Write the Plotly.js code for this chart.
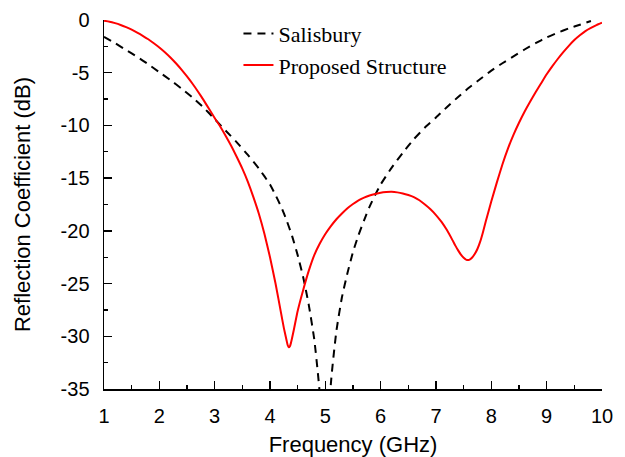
<!DOCTYPE html>
<html>
<head>
<meta charset="utf-8">
<script src="https://cdn.plot.ly/plotly-3.0.1.min.js"></script>
<style>html,body{margin:0;padding:0;background:#fff;}#chart{width:625px;height:457px;}</style>
</head>
<body>
<div id="chart"></div>
<script>
var salisburyFreq = [1.0, 1.2, 1.4, 1.6, 1.8, 2.0, 2.2, 2.4, 2.6, 2.8, 3.0, 3.2, 3.4, 3.6, 3.8, 4.0, 4.1, 4.2, 4.3, 4.4, 4.5, 4.6, 4.7, 4.8, 4.9, 5.0, 5.1, 5.2, 5.3, 5.4, 5.5, 5.6, 5.7, 5.8, 5.9, 6.0, 6.2, 6.4, 6.6, 6.8, 7.0, 7.2, 7.4, 7.6, 7.8, 8.0, 8.2, 8.4, 8.6, 8.8, 9.0, 9.2, 9.4, 9.6, 9.8];
var salisburyDb = [-1.6, -2.2, -2.85, -3.5, -4.2, -4.95, -5.7, -6.5, -7.35, -8.3, -9.4, -10.5, -11.6, -12.8, -14.1, -15.6, -16.6, -17.7, -19.0, -20.5, -22.3, -24.4, -27.0, -30.3, -35.5, -48, -34.5, -29.5, -26.3, -24.0, -22.0, -20.4, -19.0, -17.7, -16.6, -15.6, -14.0, -12.6, -11.3, -10.2, -9.25, -8.25, -7.3, -6.4, -5.6, -4.8, -4.1, -3.45, -2.8, -2.2, -1.65, -1.2, -0.8, -0.45, -0.1];

var proposedFreq = [1.0, 1.1, 1.2, 1.3, 1.4, 1.5, 1.6, 1.7, 1.8, 1.9, 2.0, 2.1, 2.2, 2.3, 2.4, 2.5, 2.6, 2.7, 2.8, 2.9, 3.0, 3.1, 3.2, 3.3, 3.4, 3.5, 3.6, 3.7, 3.8, 3.9, 4.0, 4.1, 4.2, 4.25, 4.3, 4.32, 4.34, 4.36, 4.38, 4.43, 4.5, 4.6, 4.7, 4.8, 4.9, 5.0, 5.1, 5.2, 5.3, 5.4, 5.5, 5.6, 5.7, 5.8, 5.9, 6.0, 6.1, 6.2, 6.3, 6.4, 6.5, 6.6, 6.7, 6.8, 6.9, 7.0, 7.1, 7.2, 7.3, 7.35, 7.4, 7.45, 7.5, 7.55, 7.6, 7.65, 7.7, 7.75, 7.8, 7.85, 7.9, 8.0, 8.1, 8.2, 8.3, 8.4, 8.5, 8.6, 8.7, 8.8, 8.9, 9.0, 9.1, 9.2, 9.3, 9.4, 9.5, 9.6, 9.7, 9.8, 9.9, 10.0];
var proposedDb = [-0.07, -0.16, -0.3, -0.47, -0.68, -0.92, -1.2, -1.5, -1.83, -2.2, -2.6, -3.05, -3.55, -4.1, -4.7, -5.35, -6.05, -6.8, -7.6, -8.45, -9.3, -10.1, -11.0, -11.95, -13.0, -14.1, -15.35, -16.8, -18.4, -20.3, -22.5, -25.0, -27.8, -29.2, -30.4, -30.85, -31.05, -30.95, -30.6, -29.4, -27.6, -25.6, -23.8, -22.3, -21.2, -20.3, -19.55, -18.9, -18.35, -17.85, -17.45, -17.1, -16.85, -16.65, -16.5, -16.38, -16.32, -16.3, -16.35, -16.45, -16.6, -16.8, -17.1, -17.5, -17.95, -18.5, -19.15, -19.95, -20.9, -21.4, -21.85, -22.25, -22.55, -22.75, -22.75, -22.55, -22.2, -21.7, -21.0, -20.1, -19.1, -17.2, -15.4, -13.7, -12.2, -10.9, -9.75, -8.7, -7.75, -6.85, -6.0, -5.15, -4.4, -3.7, -3.05, -2.45, -1.9, -1.45, -1.05, -0.75, -0.48, -0.25];

var seriesNames = ["Salisbury", "Proposed Structure"];
var xTickVals = [1, 2, 3, 4, 5, 6, 7, 8, 9, 10];
var xTickText = ["1", "2", "3", "4", "5", "6", "7", "8", "9", "10"];
var yTickVals = [0, -5, -10, -15, -20, -25, -30, -35];
var yTickText = ["0", "-5", "-10", "-15", "-20", "-25", "-30", "-35"];

var traces = [
  {x: salisburyFreq, y: salisburyDb, name: seriesNames[0], mode: "lines",
   line: {color: "#000000", width: 2, dash: "8px,6px", shape: "spline", smoothing: 0.5}},
  {x: proposedFreq, y: proposedDb, name: seriesNames[1], mode: "lines",
   line: {color: "#ff0000", width: 2, shape: "spline", smoothing: 0.5}}
];

var tickFont = {family: "Liberation Sans, Arial, sans-serif", size: 20, color: "#000"};
var titleFont = {family: "Liberation Sans, Arial, sans-serif", size: 22, color: "#000"};

var layout = {
  width: 625, height: 457,
  margin: {l: 104, r: 23, t: 20, b: 68, pad: 0},
  paper_bgcolor: "#ffffff", plot_bgcolor: "#ffffff",
  showlegend: true,
  legend: {x: 0.27, y: 1.02, xanchor: "left", yanchor: "top", bgcolor: "rgba(0,0,0,0)",
           font: {family: "Liberation Serif, Times New Roman, serif", size: 22, color: "#000"},
           tracegroupgap: 0},
  xaxis: {
    range: [1, 10], tickmode: "array", tickvals: xTickVals, ticktext: xTickText,
    showgrid: false, zeroline: false,
    showline: true, linecolor: "#000", linewidth: 1.5, mirror: false,
    ticks: "inside", ticklen: 8, tickwidth: 1.5, tickcolor: "#000",
    minor: {ticks: "inside", ticklen: 4, tick0: 1, dtick: 0.5, tickwidth: 1.2, tickcolor: "#000", showgrid: false},
    tickfont: tickFont,
    ticklabelstandoff: 8,
    title: {text: "Frequency (GHz)", font: titleFont, standoff: 12}
  },
  yaxis: {
    range: [-35, 0], tickmode: "array", tickvals: yTickVals, ticktext: yTickText,
    showgrid: false, zeroline: false,
    showline: true, linecolor: "#000", linewidth: 1.5, mirror: false,
    ticks: "inside", ticklen: 8, tickwidth: 1.5, tickcolor: "#000",
    minor: {ticks: "inside", ticklen: 4, tick0: 0, dtick: 2.5, tickwidth: 1.2, tickcolor: "#000", showgrid: false},
    tickfont: tickFont,
    ticklabelstandoff: 9,
    title: {text: "Reflection Coefficient (dB)", font: titleFont, standoff: 24}
  }
};

Plotly.newPlot("chart", traces, layout, {staticPlot: true, displayModeBar: false});
</script>
</body>
</html>
